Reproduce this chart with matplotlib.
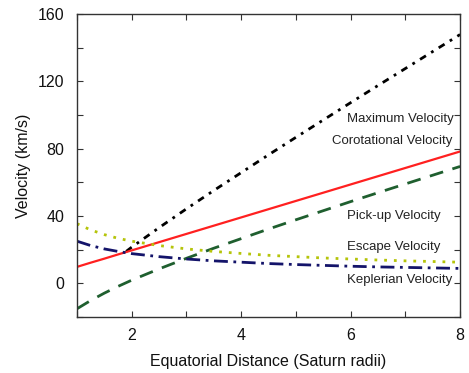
import matplotlib.pyplot as plt

plt.rcParams['font.family'] = ['Liberation Sans', 'DejaVu Sans']

# distance from Saturn (Saturn radii)
r = [1, 1.25, 1.5, 1.75, 2, 2.5, 3, 3.5, 4, 4.5, 5, 5.5, 6, 6.5, 7, 7.5, 8]
corotational = [9.8, 12.3, 14.7, 17.2, 19.6, 24.5, 29.4, 34.3, 39.2, 44.1, 49.0, 53.9, 58.8, 63.7, 68.6, 73.5, 78.4]
keplerian = [25.1, 22.5, 20.5, 19.0, 17.7, 15.9, 14.5, 13.4, 12.6, 11.8, 11.2, 10.7, 10.2, 9.8, 9.5, 9.2, 8.9]
escape = [35.5, 31.8, 29.0, 26.8, 25.1, 22.5, 20.5, 19.0, 17.8, 16.7, 15.9, 15.1, 14.5, 13.9, 13.4, 13.0, 12.6]
pickup = [-15.1, -10.2, -5.8, -1.8, 1.9, 8.6, 14.9, 20.9, 26.6, 32.3, 37.8, 43.2, 48.6, 53.9, 59.1, 64.3, 69.5]

r_max = [1.9, 2, 2.5, 3, 3.5, 4, 4.5, 5, 5.5, 6, 6.5, 7, 7.5, 8]
maximum = [19.0, 21.5, 33.1, 44.3, 55.2, 65.8, 76.4, 86.8, 97.1, 107.4, 117.6, 127.7, 137.8, 147.9]

labels = ["Maximum Velocity", "Corotational Velocity", "Pick-up Velocity",
          "Escape Velocity", "Keplerian Velocity"]
label_x = [5.94, 5.66, 5.94, 5.94, 5.94]
label_y = [97.5, 84.5, 40, 21.5, 2]

fig = plt.figure(figsize=(4.69, 3.73), dpi=100)
ax = fig.add_axes([0.164, 0.150, 0.817, 0.812])

ax.plot(r_max, maximum, color="black", lw=2, linestyle=(0, (2.5, 2.2, 1, 2.2)))
ax.plot(r, corotational, color="#ff2020", lw=1.6)
ax.plot(r, pickup, color="#1f5f2f", lw=2, linestyle=(0, (5, 3.5)))
ax.plot(r, escape, color="#b5c40a", lw=2, linestyle=(0, (1, 2.5)))
ax.plot(r, keplerian, color="#14146a", lw=2, linestyle=(0, (5, 2, 1, 2)))

for txt, x, y in zip(labels, label_x, label_y):
    ax.text(x, y, txt, fontsize=9.5, color="#222222", va="center", ha="left")

ax.set_xlim(1, 8)
ax.set_ylim(-20, 160)
ax.set_xticks(range(1, 9))
ax.set_xticklabels(["" if v % 2 else str(v) for v in range(1, 9)])
ax.set_yticks(range(-20, 161, 20))
ax.set_yticklabels([str(v) if v % 40 == 0 else "" for v in range(-20, 161, 20)])
ax.tick_params(direction="in", top=True, right=True, length=4, width=0.8,
               labelsize=11.5, colors="#333333", labelcolor="#111111")
ax.tick_params(axis="x", pad=8)
ax.tick_params(axis="y", pad=9)
for s in ax.spines.values():
    s.set_color("#333333")
    s.set_linewidth(1)

ax.set_xlabel("Equatorial Distance (Saturn radii)", fontsize=11.5, color="#111111", labelpad=8)
ax.set_ylabel("Velocity (km/s)", fontsize=11.5, color="#111111", labelpad=5)

plt.savefig("out.png", dpi=100)
plt.close()
